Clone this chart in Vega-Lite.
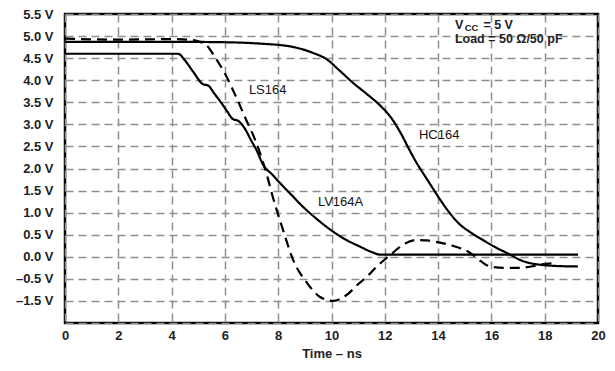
{
  "$schema": "https://vega.github.io/schema/vega-lite/v6.json",
  "width": 533,
  "height": 309,
  "autosize": {"type": "none"},
  "padding": {"left": 65, "top": 14, "right": 17, "bottom": 48},
  "background": "white",
  "config": {
    "view": {"stroke": "black", "strokeWidth": 2.5},
    "font": "Liberation Sans",
    "axis": {
      "labelFont": "Liberation Sans",
      "labelFontWeight": "bold",
      "labelFontSize": 13,
      "labelColor": "#222",
      "labelOverlap": false,
      "titleFont": "Liberation Sans",
      "titleFontWeight": "bold",
      "titleFontSize": 13,
      "titleColor": "#222",
      "ticks": false,
      "tickSize": 0,
      "domain": false,
      "grid": true,
      "gridColor": "#8f8f8f",
      "gridWidth": 1.5,
      "gridDash": [8, 5]
    }
  },
  "layer": [
    {
      "data": {
        "values": [
          {"series": "HC164", "t": 0, "v": 4.87},
          {"series": "HC164", "t": 2, "v": 4.87},
          {"series": "HC164", "t": 4, "v": 4.87},
          {"series": "HC164", "t": 6, "v": 4.86},
          {"series": "HC164", "t": 7.3, "v": 4.83},
          {"series": "HC164", "t": 8.5, "v": 4.76},
          {"series": "HC164", "t": 9.3, "v": 4.62},
          {"series": "HC164", "t": 9.83, "v": 4.47},
          {"series": "HC164", "t": 10.3, "v": 4.22},
          {"series": "HC164", "t": 10.81, "v": 3.94},
          {"series": "HC164", "t": 11.3, "v": 3.7},
          {"series": "HC164", "t": 11.82, "v": 3.43},
          {"series": "HC164", "t": 12.2, "v": 3.18},
          {"series": "HC164", "t": 12.6, "v": 2.8},
          {"series": "HC164", "t": 12.9, "v": 2.45},
          {"series": "HC164", "t": 13.2, "v": 2.12},
          {"series": "HC164", "t": 13.43, "v": 1.9},
          {"series": "HC164", "t": 13.75, "v": 1.6},
          {"series": "HC164", "t": 14.07, "v": 1.3},
          {"series": "HC164", "t": 14.4, "v": 1.02},
          {"series": "HC164", "t": 14.82, "v": 0.73},
          {"series": "HC164", "t": 15.2, "v": 0.56},
          {"series": "HC164", "t": 15.68, "v": 0.38},
          {"series": "HC164", "t": 16.2, "v": 0.2},
          {"series": "HC164", "t": 16.7, "v": 0.05},
          {"series": "HC164", "t": 17.07, "v": -0.07},
          {"series": "HC164", "t": 17.5, "v": -0.15},
          {"series": "HC164", "t": 17.82, "v": -0.18},
          {"series": "HC164", "t": 18.5, "v": -0.21},
          {"series": "HC164", "t": 19.25, "v": -0.22},
          {"series": "LS164", "t": 0, "v": 4.94},
          {"series": "LS164", "t": 2, "v": 4.92},
          {"series": "LS164", "t": 4, "v": 4.93},
          {"series": "LS164", "t": 4.6, "v": 4.92},
          {"series": "LS164", "t": 5.0, "v": 4.88},
          {"series": "LS164", "t": 5.3, "v": 4.8},
          {"series": "LS164", "t": 5.6, "v": 4.55},
          {"series": "LS164", "t": 6.0, "v": 4.15},
          {"series": "LS164", "t": 6.4, "v": 3.65},
          {"series": "LS164", "t": 6.8, "v": 3.1},
          {"series": "LS164", "t": 7.1, "v": 2.7},
          {"series": "LS164", "t": 7.4, "v": 2.2},
          {"series": "LS164", "t": 7.6, "v": 1.8},
          {"series": "LS164", "t": 7.8, "v": 1.35},
          {"series": "LS164", "t": 8.0, "v": 0.95},
          {"series": "LS164", "t": 8.18, "v": 0.61},
          {"series": "LS164", "t": 8.56, "v": -0.07},
          {"series": "LS164", "t": 9.08, "v": -0.59},
          {"series": "LS164", "t": 9.57, "v": -0.91},
          {"series": "LS164", "t": 10.06, "v": -1.0},
          {"series": "LS164", "t": 10.58, "v": -0.86},
          {"series": "LS164", "t": 11.0, "v": -0.62},
          {"series": "LS164", "t": 11.33, "v": -0.45},
          {"series": "LS164", "t": 11.7, "v": -0.22},
          {"series": "LS164", "t": 12.08, "v": -0.02},
          {"series": "LS164", "t": 12.3, "v": 0.09},
          {"series": "LS164", "t": 12.7, "v": 0.28},
          {"series": "LS164", "t": 13.2, "v": 0.38},
          {"series": "LS164", "t": 13.6, "v": 0.37},
          {"series": "LS164", "t": 14.07, "v": 0.32},
          {"series": "LS164", "t": 14.6, "v": 0.24},
          {"series": "LS164", "t": 15.2, "v": 0.09},
          {"series": "LS164", "t": 15.6, "v": -0.1},
          {"series": "LS164", "t": 15.95, "v": -0.22},
          {"series": "LS164", "t": 16.5, "v": -0.25},
          {"series": "LS164", "t": 17.07, "v": -0.25},
          {"series": "LS164", "t": 17.5, "v": -0.22},
          {"series": "LS164", "t": 17.8, "v": -0.18},
          {"series": "LS164", "t": 18.46, "v": -0.14},
          {"series": "LV164A", "t": 0, "v": 4.6},
          {"series": "LV164A", "t": 2, "v": 4.6},
          {"series": "LV164A", "t": 4.24, "v": 4.6},
          {"series": "LV164A", "t": 4.5, "v": 4.45},
          {"series": "LV164A", "t": 4.8, "v": 4.2},
          {"series": "LV164A", "t": 5.18, "v": 3.91},
          {"series": "LV164A", "t": 5.37, "v": 3.88},
          {"series": "LV164A", "t": 5.6, "v": 3.7},
          {"series": "LV164A", "t": 5.85, "v": 3.5},
          {"series": "LV164A", "t": 6.08, "v": 3.3},
          {"series": "LV164A", "t": 6.3, "v": 3.12},
          {"series": "LV164A", "t": 6.5, "v": 3.08},
          {"series": "LV164A", "t": 6.7, "v": 2.95},
          {"series": "LV164A", "t": 7.0, "v": 2.62},
          {"series": "LV164A", "t": 7.2, "v": 2.4},
          {"series": "LV164A", "t": 7.43, "v": 2.09},
          {"series": "LV164A", "t": 7.8, "v": 1.85},
          {"series": "LV164A", "t": 8.1, "v": 1.65},
          {"series": "LV164A", "t": 8.5, "v": 1.4},
          {"series": "LV164A", "t": 8.9, "v": 1.15},
          {"series": "LV164A", "t": 9.4, "v": 0.88},
          {"series": "LV164A", "t": 10.06, "v": 0.57},
          {"series": "LV164A", "t": 10.5, "v": 0.4},
          {"series": "LV164A", "t": 11.07, "v": 0.23},
          {"series": "LV164A", "t": 11.5, "v": 0.11},
          {"series": "LV164A", "t": 11.82, "v": 0.05},
          {"series": "LV164A", "t": 12.5, "v": 0.05},
          {"series": "LV164A", "t": 19.25, "v": 0.05}
        ]
      },
      "mark": {"type": "line", "color": "black", "strokeWidth": 2.2, "interpolate": "monotone"},
      "encoding": {
        "x": {
          "field": "t",
          "type": "quantitative",
          "scale": {"domain": [0, 20], "nice": false, "zero": false},
          "axis": {"values": [0, 2, 4, 6, 8, 10, 12, 14, 16, 18, 20], "tickCount": 30, "format": "d", "title": "Time – ns", "labelPadding": 6, "titlePadding": 5, "labelFlush": false, "labelOverlap": false}
        },
        "y": {
          "field": "v",
          "type": "quantitative",
          "scale": {"domain": [-1.5, 5.5], "nice": false, "zero": false},
          "axis": {
            "title": null,
            "labelPadding": 12,
            "labelFlush": false,
            "labelOverlap": false,
            "tickCount": 30,
            "values": [-1.5, -1, -0.5, 0, 0.5, 1, 1.5, 2, 2.5, 3, 3.5, 4, 4.5, 5, 5.5],
            "labelExpr": "datum.value == -1.5 ? '' : (datum.value == -1 ? '–1.5 V' : (datum.value < 0 ? '–' + format(-datum.value, '.1f') : format(datum.value, '.1f')) + ' V')"
          }
        },
        "detail": {"field": "series"},
        "strokeDash": {
          "field": "series",
          "type": "nominal",
          "scale": {"domain": ["HC164", "LS164", "LV164A"], "range": [[1, 0], [10, 6], [1, 0]]},
          "legend": null
        }
      }
    },
    {
      "data": {
        "values": [
          {"t": 6.9, "v": 3.68, "label": "LS164"},
          {"t": 13.28, "v": 2.66, "label": "HC164"},
          {"t": 9.49, "v": 1.14, "label": "LV164A"}
        ]
      },
      "mark": {"type": "text", "align": "left", "baseline": "alphabetic", "fontSize": 13, "font": "Liberation Sans", "color": "#111"},
      "encoding": {
        "x": {"field": "t", "type": "quantitative"},
        "y": {"field": "v", "type": "quantitative"},
        "text": {"field": "label"}
      }
    },
    {
      "data": {
        "values": [
          {"t": 14.63, "v": 5.17, "label": "V"},
          {"t": 15.7, "v": 5.17, "label": "= 5 V"},
          {"t": 14.63, "v": 4.85, "label": "Load = 50 Ω/50 pF"}
        ]
      },
      "mark": {"type": "text", "align": "left", "baseline": "alphabetic", "fontSize": 12.5, "fontWeight": "bold", "font": "Liberation Sans", "color": "#222"},
      "encoding": {
        "x": {"field": "t", "type": "quantitative"},
        "y": {"field": "v", "type": "quantitative"},
        "text": {"field": "label"}
      }
    },
    {
      "data": {"values": [{"t": 15.0, "v": 5.125, "label": "CC"}]},
      "mark": {"type": "text", "align": "left", "baseline": "alphabetic", "fontSize": 9.5, "fontWeight": "bold", "font": "Liberation Sans", "color": "#222"},
      "encoding": {
        "x": {"field": "t", "type": "quantitative"},
        "y": {"field": "v", "type": "quantitative"},
        "text": {"field": "label"}
      }
    }
  ]
}
